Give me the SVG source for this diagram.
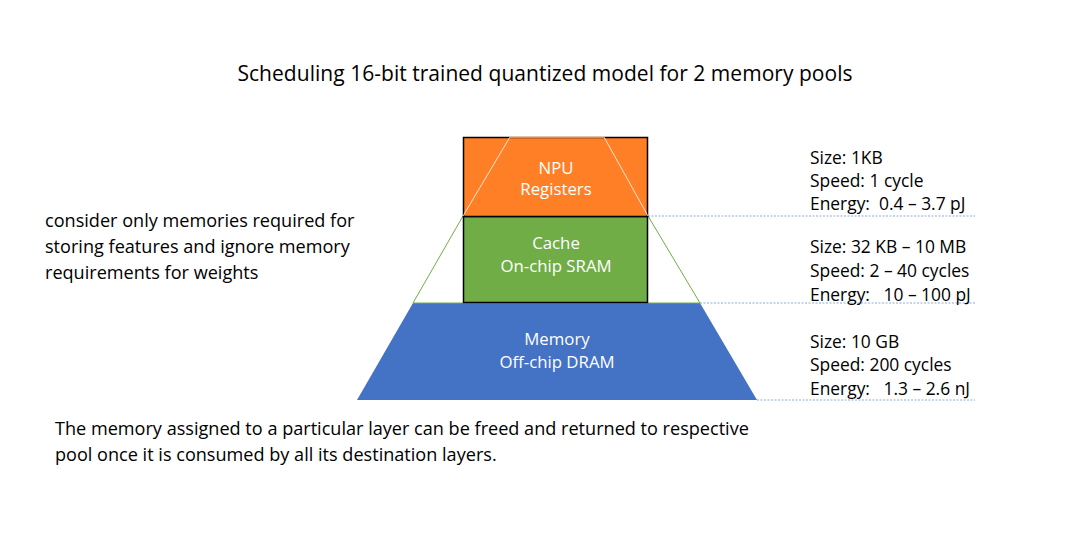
<svg xmlns="http://www.w3.org/2000/svg" width="1090" height="548" viewBox="0 0 1090 548">
<style>
text{font-family:"Open Sans","Liberation Sans",sans-serif;}
.t{fill:#000;font-size:18.1px;}
.h{fill:#000;font-size:21px;}
.r{fill:#000;font-size:17.4px;}
.w{fill:#fff;font-size:16.8px;text-anchor:middle;}
.dot{stroke:#8FAADC;stroke-width:1.2;stroke-dasharray:2 1.5;fill:none;}
</style>
<rect width="1090" height="548" fill="#fff"/>
<text class="h" x="545" y="81" text-anchor="middle" textLength="615">Scheduling 16-bit trained quantized model for 2 memory pools</text>
<g id="connectors">
<line class="dot" x1="648" y1="216" x2="975" y2="216"/>
<line class="dot" x1="700" y1="303" x2="975" y2="303"/>
<line class="dot" x1="757" y1="400" x2="975" y2="400"/>
</g>
<g id="memory">
<polygon points="413,303 700,303 757,400 357,400" fill="#4472C4"/>
<text class="w" x="557" y="345">Memory</text>
<text class="w" x="557" y="368">Off-chip DRAM</text>
</g>
<g id="cache">
<line x1="463" y1="216" x2="413" y2="303" stroke="#70AD47" stroke-width="1"/>
<line x1="648" y1="216" x2="700" y2="303" stroke="#70AD47" stroke-width="1"/>
<line x1="413" y1="303" x2="700" y2="303" stroke="#70AD47" stroke-width="1"/>
<rect x="463.5" y="216.5" width="184" height="86" fill="#70AD47" stroke="#000" stroke-width="1.5"/>
<text class="w" x="556" y="249">Cache</text>
<text class="w" x="556" y="272">On-chip SRAM</text>
</g>
<g id="npu">
<rect x="463.5" y="137.5" width="184" height="79" fill="#FF7F27" stroke="#000" stroke-width="1.5"/>
<polyline points="463,216 510,137 604,137 648,216" fill="none" stroke="#fff" stroke-width="0.8"/>
<line x1="510" y1="137.5" x2="604" y2="137.5" stroke="#FF7F27" stroke-width="1.5"/>
<text class="w" x="556" y="174">NPU</text>
<text class="w" x="556" y="195">Registers</text>
</g>
<g id="specs">
<text class="r" x="810" y="164">Size: 1KB</text>
<text class="r" x="810" y="187">Speed: 1 cycle</text>
<text class="r" x="810" y="210" xml:space="preserve">Energy:  0.4 – 3.7 pJ</text>
<text class="r" x="810" y="253">Size: 32 KB – 10 MB</text>
<text class="r" x="810" y="277">Speed: 2 – 40 cycles</text>
<text class="r" x="810" y="301" xml:space="preserve">Energy:   10 – 100 pJ</text>
<text class="r" x="810" y="348">Size: 10 GB</text>
<text class="r" x="810" y="371">Speed: 200 cycles</text>
<text class="r" x="810" y="395" xml:space="preserve">Energy:   1.3 – 2.6 nJ</text>
</g>
<g id="notes">
<text class="t" x="45" y="227">consider only memories required for</text>
<text class="t" x="45" y="253">storing features and ignore memory</text>
<text class="t" x="45" y="279">requirements for weights</text>
<text class="t" x="55" y="435">The memory assigned to a particular layer can be freed and returned to respective</text>
<text class="t" x="55" y="461">pool once it is consumed by all its destination layers.</text>
</g>
</svg>
